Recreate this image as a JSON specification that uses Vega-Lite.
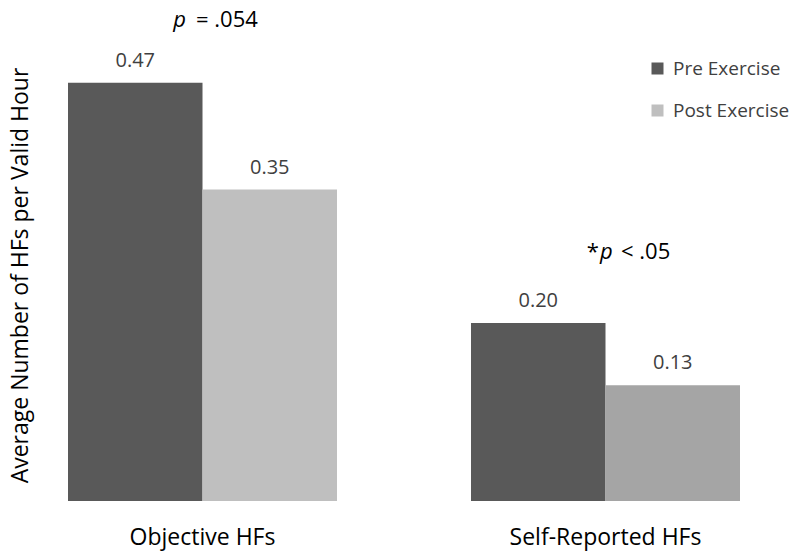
{
  "$schema": "https://vega.github.io/schema/vega-lite/v6.json",
  "width": 672,
  "height": 445,
  "autosize": {"type": "none"},
  "padding": {"left": 68, "top": 56, "right": 60, "bottom": 59},
  "background": "white",
  "config": {"view": {"stroke": null}, "font": "Open Sans"},
  "layer": [
    {
      "data": {
        "values": [
          {"group": "Objective HFs", "series": "Pre Exercise", "value": 0.47},
          {"group": "Objective HFs", "series": "Post Exercise", "value": 0.35},
          {"group": "Self-Reported HFs", "series": "Pre Exercise", "value": 0.20},
          {"group": "Self-Reported HFs", "series": "Post Exercise", "value": 0.13}
        ]
      },
      "encoding": {
        "x": {
          "field": "group", "type": "nominal", "sort": ["Objective HFs", "Self-Reported HFs"],
          "scale": {"paddingInner": 0.3325, "paddingOuter": 0},
          "axis": {"title": null, "domain": false, "ticks": false, "labelAngle": 0, "labelFontSize": 23, "labelColor": "#000000", "labelPadding": 25, "labelLimit": 400, "labelFont": "Open Sans"}
        },
        "xOffset": {"field": "series", "type": "nominal", "sort": ["Pre Exercise", "Post Exercise"], "scale": {"paddingInner": 0, "paddingOuter": 0}},
        "y": {
          "field": "value", "type": "quantitative",
          "scale": {"domain": [0, 0.5], "nice": false},
          "axis": {"title": "Average Number of HFs per Valid Hour", "labels": false, "ticks": false, "domain": false, "grid": false, "titleFontSize": 23, "titleFontWeight": "normal", "titleColor": "#000000", "titleX": -48, "titleY": 219, "titleAlign": "center", "titleBaseline": "middle", "titleAngle": -90}
        }
      },
      "layer": [
        {
          "mark": {"type": "bar"},
          "encoding": {
            "color": {
              "field": "series", "type": "nominal",
              "scale": {"domain": ["Pre Exercise", "Post Exercise"], "range": ["#595959", "#bfbfbf"]},
              "condition": {"test": "datum.group === 'Self-Reported HFs' && datum.series === 'Post Exercise'", "value": "#a5a5a5"},
              "legend": {"title": null, "orient": "none", "legendX": 580, "legendY": 3, "symbolType": "square", "symbolSize": 144, "symbolStrokeWidth": 0, "labelFontSize": 19, "labelColor": "#404040", "labelOffset": 6, "rowPadding": 22}
            }
          }
        },
        {
          "mark": {"type": "text", "dy": -16, "baseline": "alphabetic", "fontSize": 20, "color": "#404040"},
          "encoding": {"text": {"field": "value", "type": "quantitative", "format": ".2f"}}
        }
      ]
    },
    {
      "data": {"values": [{"group": "Objective HFs", "value": 0.533, "italic": "p", "rest": "= .054"}]},
      "encoding": {
        "x": {"field": "group", "type": "nominal"},
        "y": {"field": "value", "type": "quantitative"}
      },
      "layer": [
        {"mark": {"type": "text", "align": "right", "dx": -16.5, "baseline": "alphabetic", "fontSize": 22, "fontStyle": "italic", "color": "#000000"}, "encoding": {"text": {"field": "italic"}}},
        {"mark": {"type": "text", "align": "left", "dx": -6.5, "baseline": "alphabetic", "fontSize": 22, "color": "#000000"}, "encoding": {"text": {"field": "rest"}}}
      ]
    },
    {
      "data": {"values": [{"group": "Self-Reported HFs", "value": 0.272, "star": "*", "italic": "p", "rest": "< .05"}]},
      "encoding": {
        "x": {"field": "group", "type": "nominal"},
        "y": {"field": "value", "type": "quantitative"}
      },
      "layer": [
        {"mark": {"type": "text", "align": "right", "dx": -6.5, "baseline": "alphabetic", "fontSize": 22, "color": "#000000"}, "encoding": {"text": {"field": "star"}}},
        {"mark": {"type": "text", "align": "left", "dx": -5.5, "baseline": "alphabetic", "fontSize": 22, "fontStyle": "italic", "color": "#000000"}, "encoding": {"text": {"field": "italic"}}},
        {"mark": {"type": "text", "align": "left", "dx": 15.5, "baseline": "alphabetic", "fontSize": 22, "color": "#000000"}, "encoding": {"text": {"field": "rest"}}}
      ]
    }
  ]
}
